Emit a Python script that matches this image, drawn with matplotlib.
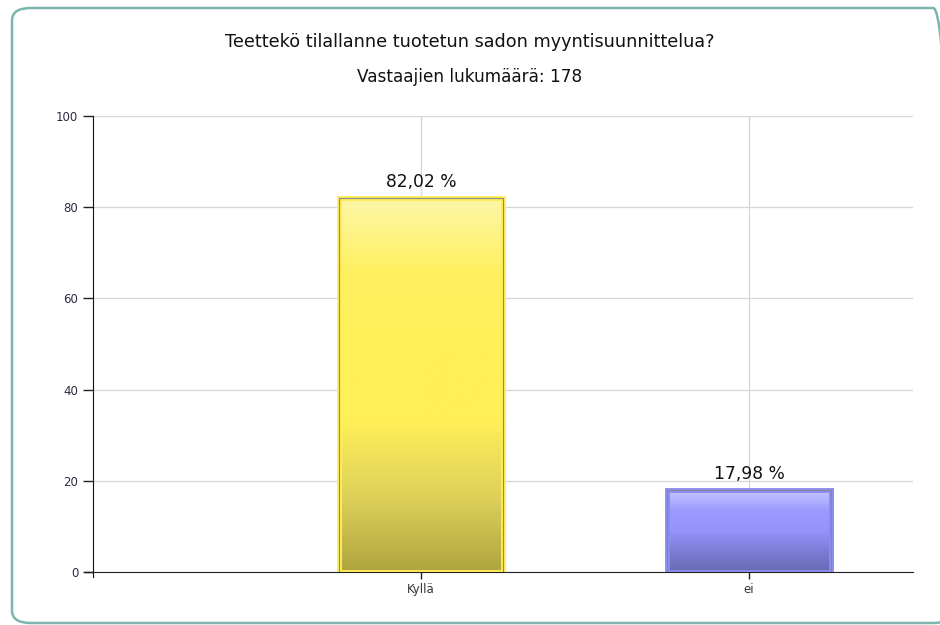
import numpy as np
import matplotlib
matplotlib.use("Agg")
import matplotlib.pyplot as plt
from matplotlib.patches import FancyBboxPatch, Rectangle
from matplotlib.colors import LinearSegmentedColormap

title = "Teettekö tilallanne tuotetun sadon myyntisuunnittelua?"
subtitle = "Vastaajien lukumäärä: 178"
categories = ["Kyllä", "ei"]
values = [82.02, 17.98]
labels = ["82,02 %", "17,98 %"]
positions = [1, 2]

# gradients top -> bottom
yellow = ["#fdf6a8", "#fff060", "#ffef58", "#ffef58", "#ddd15a", "#b0a53e"]
blue = ["#c6c6ff", "#9a9aff", "#9494fa", "#7c7cd6", "#6a6ab4"]
grads = [yellow, blue]
edges = ["#ffee55", "#8c8cee"]

plt.rcParams['font.family'] = ['DejaVu Sans']

fig = plt.figure(figsize=(9.4, 6.25), dpi=100)

# rounded frame
frame = FancyBboxPatch((12 / 940, 2 / 625), 940 / 940, 615 / 625,
                       boxstyle="round,pad=0,rounding_size=0.02",
                       transform=fig.transFigure, facecolor="none",
                       edgecolor="#7ab6b0", linewidth=1.8, zorder=-5)
fig.patches.append(frame)

ax = fig.add_axes([93 / 940, 1 - 572 / 625, 820 / 940, 456 / 625])
ax.set_xlim(0, 2.5)
ax.set_ylim(0, 100)
ax.patch.set_alpha(0)

ax.set_yticks([0, 20, 40, 60, 80, 100])
ax.set_xticks(positions)
ax.set_xticklabels(categories)
ax.tick_params(axis="both", labelsize=8.5, colors="#222222", length=7, width=1)
ax.tick_params(axis="y", labelcolor="#2a2a44")
ax.tick_params(axis="x", length=5, pad=3, labelcolor="#333333")
ax.grid(True, color="#d6d6d6", linewidth=0.9)
ax.set_axisbelow(True)
for s in ["top", "right"]:
    ax.spines[s].set_visible(False)
ax.spines["left"].set_color("#111111")
ax.spines["bottom"].set_color("#222222")
ax.spines["left"].set_bounds(-1.2, 100)
ax.plot([-0.025, 0], [0, 0], color="#222222", lw=1, clip_on=False)

w = 0.5
for x, v, grad, ec, lab in zip(positions, values, grads, edges, labels):
    cmap = LinearSegmentedColormap.from_list("g", grad)
    img = np.linspace(0, 1, 256).reshape(-1, 1)
    im = ax.imshow(img, cmap=cmap, aspect="auto",
                   extent=[x - w / 2, x + w / 2, 0, v], zorder=2, origin="upper")
    rect = Rectangle((x - w / 2, 0), w, v, facecolor="none", edgecolor=ec,
                     linewidth=3.5, zorder=3)
    ax.add_patch(rect)
    outer = Rectangle((x - w / 2, 0), w, v, facecolor="none", edgecolor="#888899",
                      linewidth=0.8, zorder=4)
    ax.add_patch(outer)
    im.set_clip_path(outer)
    ax.text(x, v + 1.6, lab, ha="center", va="bottom", fontsize=12.3, color="#111111")

ax.set_xlim(0, 2.5)
ax.set_ylim(0, 100)

fig.text(0.5, 1 - 42 / 625, title, ha="center", va="center", fontsize=12.7, color="#111111")
fig.text(0.5, 1 - 77 / 625, subtitle, ha="center", va="center", fontsize=12.2, color="#111111")

fig.savefig("out.png", dpi=100)
